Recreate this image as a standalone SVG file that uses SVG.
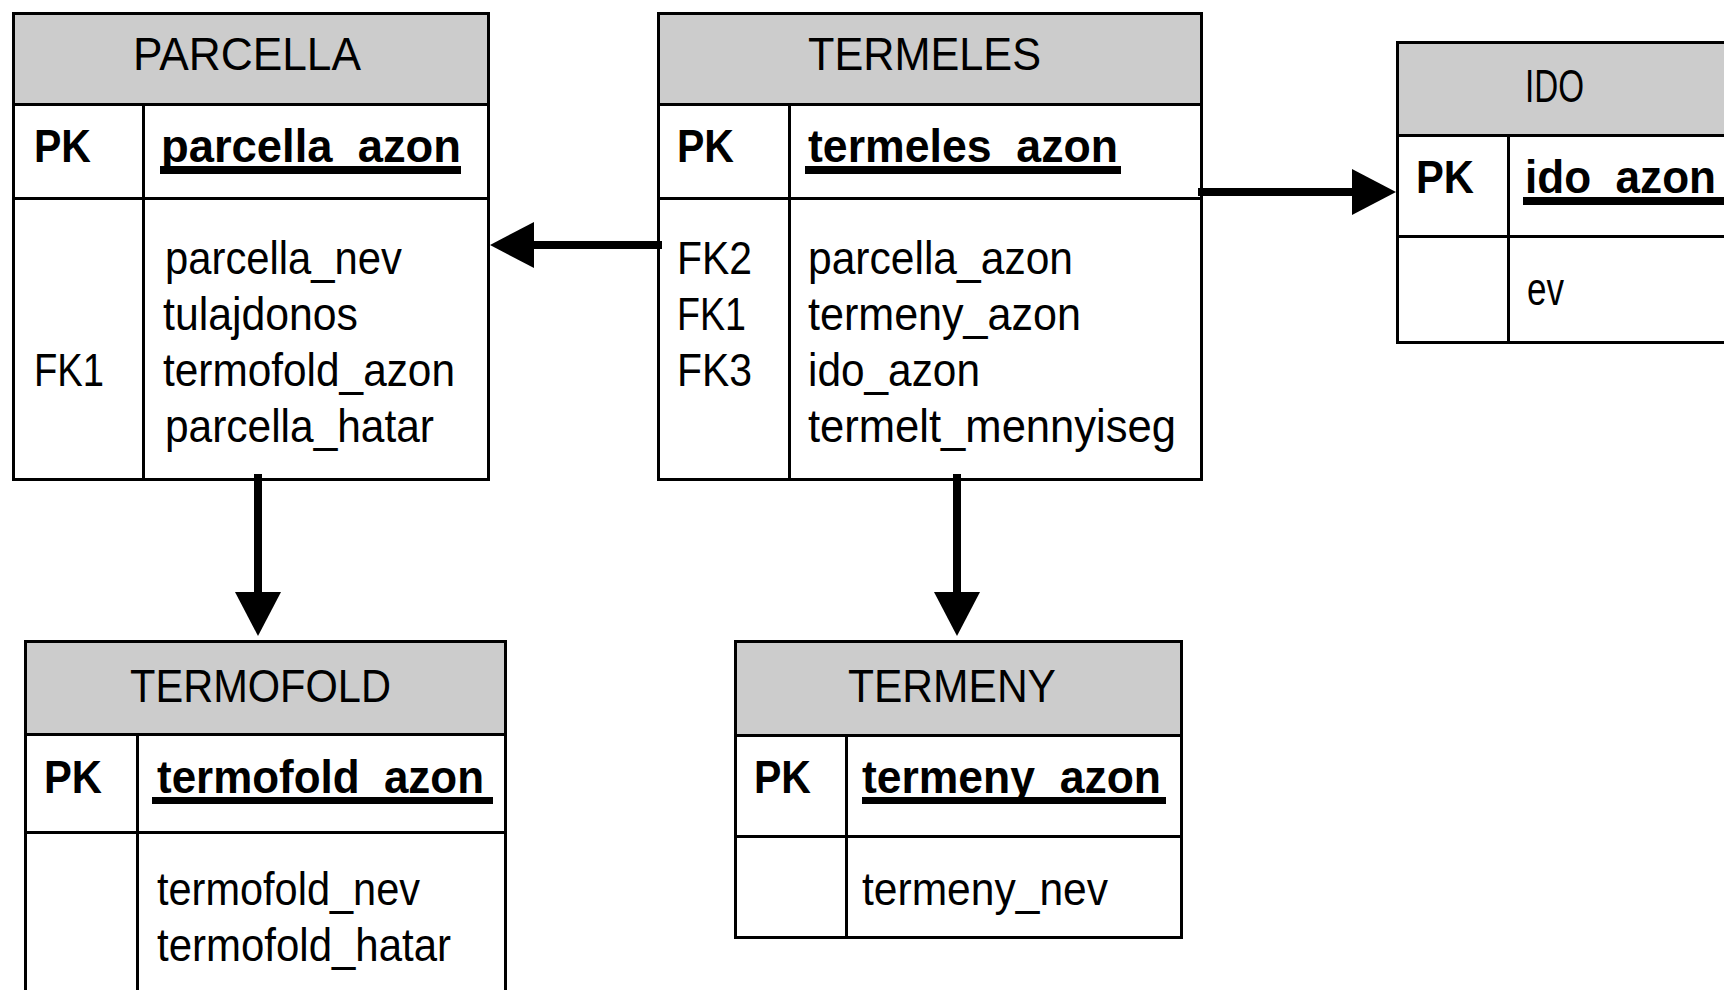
<svg xmlns="http://www.w3.org/2000/svg" width="1724" height="990" viewBox="0 0 1724 990">
  <style>
    text { font-family: "Liberation Sans", Arial, sans-serif; font-size: 46px; fill: #000; }
    .key { font-weight: bold; }
    .head { fill: #cccccc; stroke: none; }
    .frame { fill: none; stroke: #000; stroke-width: 3; }
    .rule { stroke: #000; stroke-width: 3; fill: none; }
    .ul { fill: #000; }
    .rel { stroke: #000; stroke-width: 8; fill: none; marker-end: url(#tri); }
  </style>
  <defs>
    <marker id="tri" viewBox="0 0 44 46" refX="0" refY="23" markerWidth="44" markerHeight="46" markerUnits="userSpaceOnUse" orient="auto">
      <path d="M0,0 L44,23 L0,46 Z" fill="#000"/>
    </marker>
  </defs>

  <rect x="0" y="0" width="1724" height="990" fill="#fff"/>

  <!-- PARCELLA -->
  <g id="parcella">
    <rect class="head" x="13.5" y="13.5" width="475" height="91"/>
    <rect class="frame" x="13.5" y="13.5" width="475" height="466"/>
    <path class="rule" d="M13.5,104.5 H488.5 M13.5,198.5 H488.5 M143.5,104.5 V479.5"/>
    <text x="133" y="70" textLength="228" lengthAdjust="spacingAndGlyphs">PARCELLA</text>
    <text class="key" x="34" y="162" textLength="57" lengthAdjust="spacingAndGlyphs">PK</text>
    <text class="key" x="161" y="162" textLength="300" lengthAdjust="spacingAndGlyphs">parcella_azon</text>
    <rect class="ul" x="160" y="166" width="301" height="8"/>
    <text x="34" y="386" textLength="70" lengthAdjust="spacingAndGlyphs">FK1</text>
    <text x="165" y="274" textLength="237" lengthAdjust="spacingAndGlyphs">parcella_nev</text>
    <text x="163" y="330" textLength="195" lengthAdjust="spacingAndGlyphs">tulajdonos</text>
    <text x="163" y="386" textLength="292" lengthAdjust="spacingAndGlyphs">termofold_azon</text>
    <text x="165" y="442" textLength="269" lengthAdjust="spacingAndGlyphs">parcella_hatar</text>
  </g>

  <!-- TERMELES -->
  <g id="termeles">
    <rect class="head" x="658.5" y="13.5" width="543" height="91"/>
    <rect class="frame" x="658.5" y="13.5" width="543" height="466"/>
    <path class="rule" d="M658.5,104.5 H1201.5 M658.5,198.5 H1201.5 M789.5,104.5 V479.5"/>
    <text x="808" y="70" textLength="233" lengthAdjust="spacingAndGlyphs">TERMELES</text>
    <text class="key" x="677" y="162" textLength="57" lengthAdjust="spacingAndGlyphs">PK</text>
    <text class="key" x="808" y="162" textLength="310" lengthAdjust="spacingAndGlyphs">termeles_azon</text>
    <rect class="ul" x="805" y="166" width="316" height="8"/>
    <text x="677" y="274" textLength="75" lengthAdjust="spacingAndGlyphs">FK2</text>
    <text x="677" y="330" textLength="69" lengthAdjust="spacingAndGlyphs">FK1</text>
    <text x="677" y="386" textLength="75" lengthAdjust="spacingAndGlyphs">FK3</text>
    <text x="808" y="274" textLength="265" lengthAdjust="spacingAndGlyphs">parcella_azon</text>
    <text x="808" y="330" textLength="273" lengthAdjust="spacingAndGlyphs">termeny_azon</text>
    <text x="808" y="386" textLength="172" lengthAdjust="spacingAndGlyphs">ido_azon</text>
    <text x="808" y="442" textLength="368" lengthAdjust="spacingAndGlyphs">termelt_mennyiseg</text>
  </g>

  <!-- IDO (runs past the right edge) -->
  <g id="ido">
    <rect class="head" x="1397.5" y="42.5" width="340" height="93"/>
    <rect class="frame" x="1397.5" y="42.5" width="340" height="300"/>
    <path class="rule" d="M1397.5,135.5 H1737.5 M1397.5,236.5 H1737.5 M1508.5,135.5 V342.5"/>
    <text x="1525" y="102" textLength="59" lengthAdjust="spacingAndGlyphs">IDO</text>
    <text class="key" x="1416" y="193" textLength="58" lengthAdjust="spacingAndGlyphs">PK</text>
    <text class="key" x="1525" y="193" textLength="191" lengthAdjust="spacingAndGlyphs">ido_azon</text>
    <rect class="ul" x="1523" y="197" width="210" height="8"/>
    <text x="1527" y="305" textLength="37" lengthAdjust="spacingAndGlyphs">ev</text>
  </g>

  <!-- TERMOFOLD (runs past the bottom edge) -->
  <g id="termofold">
    <rect class="head" x="25.5" y="641.5" width="480" height="93"/>
    <rect class="frame" x="25.5" y="641.5" width="480" height="380"/>
    <path class="rule" d="M25.5,734.5 H505.5 M25.5,832.5 H505.5 M137.5,734.5 V1000"/>
    <text x="130" y="702" textLength="261" lengthAdjust="spacingAndGlyphs">TERMOFOLD</text>
    <text class="key" x="44" y="793" textLength="58" lengthAdjust="spacingAndGlyphs">PK</text>
    <text class="key" x="157" y="793" textLength="327" lengthAdjust="spacingAndGlyphs">termofold_azon</text>
    <rect class="ul" x="152" y="797" width="341" height="7"/>
    <text x="157" y="905" textLength="263" lengthAdjust="spacingAndGlyphs">termofold_nev</text>
    <text x="157" y="961" textLength="294" lengthAdjust="spacingAndGlyphs">termofold_hatar</text>
  </g>

  <!-- TERMENY -->
  <g id="termeny">
    <rect class="head" x="735.5" y="641.5" width="446" height="94"/>
    <rect class="frame" x="735.5" y="641.5" width="446" height="296"/>
    <path class="rule" d="M735.5,735.5 H1181.5 M735.5,836.5 H1181.5 M846.5,735.5 V937.5"/>
    <text x="848" y="702" textLength="208" lengthAdjust="spacingAndGlyphs">TERMENY</text>
    <text class="key" x="754" y="793" textLength="57" lengthAdjust="spacingAndGlyphs">PK</text>
    <text class="key" x="862" y="793" textLength="299" lengthAdjust="spacingAndGlyphs">termeny_azon</text>
    <rect class="ul" x="862" y="797" width="304" height="7"/>
    <text x="862" y="905" textLength="246" lengthAdjust="spacingAndGlyphs">termeny_nev</text>
  </g>

  <!-- foreign-key relationships -->
  <g id="connectors">
    <path class="rel" d="M662,245 H534"/>
    <path class="rel" d="M1198,192 H1352"/>
    <path class="rel" d="M258,474 V592"/>
    <path class="rel" d="M957,474 V592"/>
  </g>
</svg>
